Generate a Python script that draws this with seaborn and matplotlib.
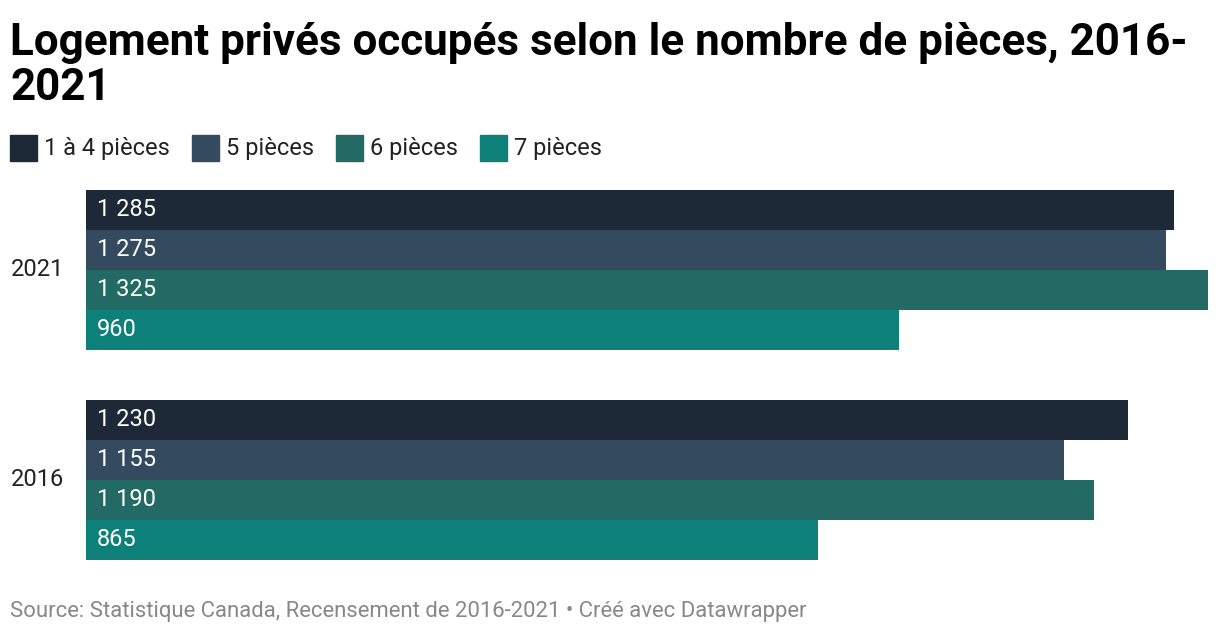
import pandas as pd
import seaborn as sns
import matplotlib.pyplot as plt

years = ["2021", "2016"]
categories = ["1 à 4 pièces", "5 pièces", "6 pièces", "7 pièces"]
values_2021 = [1285, 1275, 1325, 960]
values_2016 = [1230, 1155, 1190, 865]
colors = ["#1e2937", "#344a5e", "#226a63", "#0e807a"]

df = pd.DataFrame({
    "annee": [years[0]] * 4 + [years[1]] * 4,
    "categorie": categories * 2,
    "valeur": values_2021 + values_2016,
})

sns.set_theme(style="white")
plt.rcParams["font.family"] = ["Roboto", "DejaVu Sans"]

fig = plt.figure(figsize=(12.2, 6.36), dpi=100)
ax = fig.add_axes([86 / 1220, (636 - 560) / 636, 1122 / 1220, 370 / 636])

w = 160 / 210
sns.barplot(data=df, y="annee", x="valeur", hue="categorie", order=years,
            hue_order=categories, palette=colors, orient="h", width=w,
            gap=0, dodge=True, saturation=1, linewidth=0, ax=ax, legend=False)

ax.set_xlim(0, 1325)
ax.set_ylim(1 + w / 2, -w / 2)
ax.set_xlabel("")
ax.set_ylabel("")
ax.set_xticks([])
ax.tick_params(axis="y", length=0, pad=16, labelsize=17, labelcolor="#222222")
for lab in ax.get_yticklabels():
    lab.set_va("center")
for s in ax.spines.values():
    s.set_visible(False)

# value labels inside bars, at the left
for cont in ax.containers:
    for patch, v in zip(cont.patches, cont.datavalues):
        ax.text(11 / 1122, patch.get_y() + patch.get_height() / 2,
                f"{v:,.0f}".replace(",", " "), transform=ax.get_yaxis_transform(),
                color="white", fontsize=17, ha="left", va="center")

for line, base in [("Logement privés occupés selon le nombre de pièces, 2016-", 55),
                   ("2021", 100)]:
    fig.text(10 / 1220, 1 - base / 636, line, fontsize=31.7, fontweight="bold",
             color="#000000", ha="left", va="baseline")

# legend
lx = 10
for cat, col in zip(categories, colors):
    fig.patches.append(plt.Rectangle((lx / 1220, 1 - 161 / 636), 27 / 1220, 26 / 636,
                                     transform=fig.transFigure, color=col))
    t = fig.text((lx + 34) / 1220, 1 - 149 / 636, cat, fontsize=17, color="#222222",
                 ha="left", va="center")
    fig.canvas.draw()
    bb = t.get_window_extent()
    lx = bb.x1 + 22

fig.text(10 / 1220, 1 - 611 / 636,
         "Source: Statistique Canada, Recensement de 2016-2021 • Créé avec Datawrapper",
         fontsize=15.9, color="#888888", ha="left", va="center")

fig.savefig("out.png", dpi=100)
